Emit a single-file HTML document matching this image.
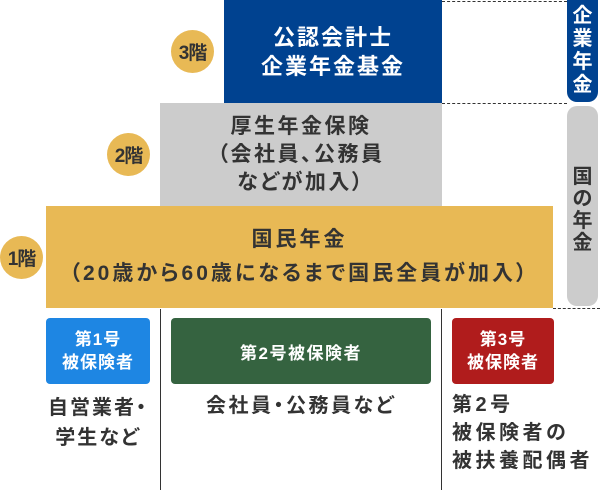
<!DOCTYPE html>
<html><head><meta charset="utf-8"><style>
body{margin:0;width:600px;height:490px;background:#fff;position:relative;overflow:hidden;font-family:"Liberation Sans","Noto Sans CJK JP",sans-serif;font-weight:bold;color:#333}
div{position:absolute;box-sizing:border-box}
.c{display:flex;align-items:center;justify-content:center;text-align:center;flex-direction:column}
.circ{width:43px;height:43px;border-radius:50%;background:#e8b955;font-size:19px;color:#333;letter-spacing:-1px}
.dot{border-top:1px dashed #333;height:0}
.vl{width:1px;background:#333}
.p{font-feature-settings:"palt"}
</style></head><body>
<div class="c" style="left:224px;top:0;width:218px;height:103px;background:#004290;color:#fff;font-size:22px;letter-spacing:2px;line-height:29px">公認会計士<br>企業年金基金</div>
<div class="c p" style="left:160px;top:103px;width:282px;height:103px;background:#ccc;font-size:21px;letter-spacing:2.5px;line-height:28px">厚生年金保険<br>（会社員、公務員<br>などが加入）</div>
<div class="c p" style="left:46px;top:206px;width:507px;height:102px;background:#e8b955;font-size:21px;letter-spacing:3px;line-height:34px">国民年金<br>（20歳から60歳になるまで国民全員が加入）</div>
<div class="c circ" style="left:171px;top:30px">3階</div>
<div class="c circ" style="left:107px;top:133px">2階</div>
<div class="c circ" style="left:0px;top:236px">1階</div>
<div class="dot" style="left:442px;top:1px;width:125px"></div>
<div class="dot" style="left:442px;top:103px;width:125px"></div>
<div class="dot" style="left:553px;top:308px;width:47px"></div>
<div class="c" style="left:567px;top:0;width:31px;height:102px;background:#004290;color:#fff;border-radius:0 0 10px 10px;font-size:20px;line-height:23px">企<br>業<br>年<br>金</div>
<div class="c" style="left:567px;top:106px;width:31px;height:200px;background:#ccc;border-radius:10px;font-size:20px;line-height:22px;padding-top:8px">国<br>の<br>年<br>金</div>
<div class="vl" style="left:160px;top:309px;height:181px"></div>
<div class="vl" style="left:441px;top:309px;height:181px"></div>
<div class="c" style="left:46px;top:318px;width:104px;height:66px;background:#1e86e3;color:#fff;border-radius:4px;font-size:17px;letter-spacing:1px;line-height:23px">第1号<br>被保険者</div>
<div class="c" style="left:171px;top:318px;width:260px;height:66px;background:#356340;color:#fff;border-radius:4px;font-size:17px;letter-spacing:1.5px">第2号被保険者</div>
<div class="c" style="left:452px;top:318px;width:102px;height:66px;background:#b01c1c;color:#fff;border-radius:4px;font-size:17px;letter-spacing:1px;line-height:23px">第3号<br>被保険者</div>
<div class="p" style="left:40px;top:393px;width:116px;text-align:center;font-size:20px;letter-spacing:2px;line-height:30px">自営業者・<br>学生など</div>
<div class="p" style="left:171px;top:392px;width:260px;text-align:center;font-size:20px;letter-spacing:2.5px;line-height:29px">会社員・公務員など</div>
<div style="left:452px;top:391px;width:150px;font-size:20px;letter-spacing:3.5px;line-height:28px;white-space:nowrap">第2号<br>被保険者の<br>被扶養配偶者</div>
</body></html>
